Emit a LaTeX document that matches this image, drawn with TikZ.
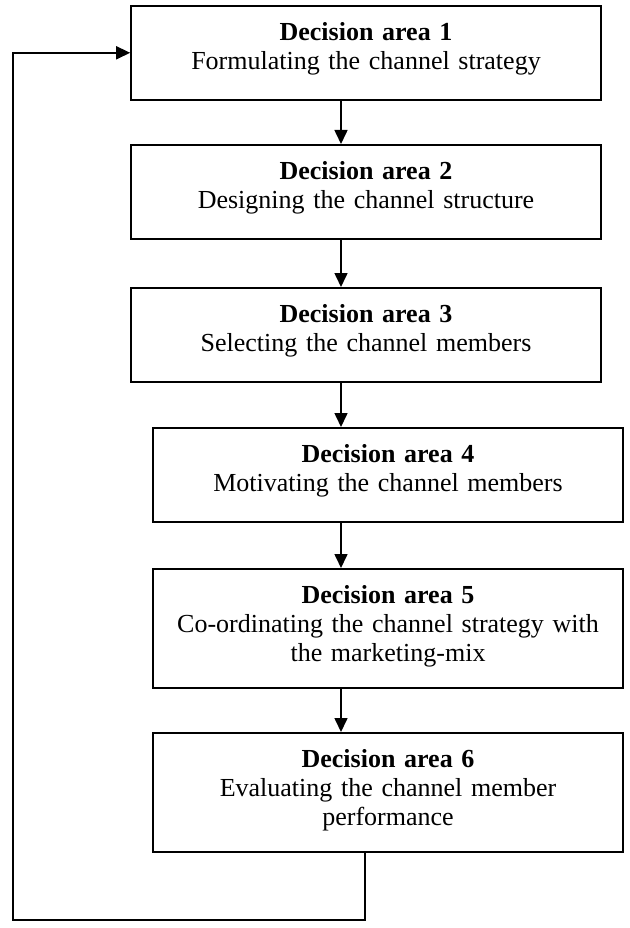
\documentclass[tikz,border=0pt]{standalone}
\usepackage{fontspec}
\setmainfont{Liberation Serif}
\usetikzlibrary{arrows.meta,calc}

\begin{document}
\begin{tikzpicture}[x=1pt,y=1pt]
        \useasboundingbox (0,0) rectangle (629,-928);
        \begin{scope}[every node/.style={draw,line width=1.6pt,anchor=north,inner sep=0pt,
                    text width=470pt,align=center,text height=35pt,text depth=59pt,
                    font=\fontsize{26}{29}\selectfont}]
            \node (a1) at (366,-5) {\textbf{Decision area 1}\\Formulating the channel strategy};
            \node (a2) at (366,-144) {\textbf{Decision area 2}\\Designing the channel structure};
            \node (a3) at (366,-287) {\textbf{Decision area 3}\\Selecting the channel members};
            \node (a4) at (388,-427) {\textbf{Decision area 4}\\Motivating the channel members};
            \node[text depth=84pt] (a5) at (388,-568) {\textbf{Decision area 5}\\Co-ordinating the channel strategy with\\the marketing-mix};
            \node[text depth=84pt] (a6) at (388,-732) {\textbf{Decision area 6}\\Evaluating the channel member\\performance};
        \end{scope}

        \coordinate (spine) at (341,0);
        \coordinate (back) at (365,0);
        \coordinate (corner) at (13,-920);

        \begin{scope}[>={Triangle[length=14pt,width=13pt]},
                    every edge/.style={draw=black,line width=1.6pt}]
            \path [->] (a1.south -| spine) edge (a2.north -| spine);
            \path [->] (a2.south -| spine) edge (a3.north -| spine);
            \path [->] (a3.south -| spine) edge (a4.north -| spine);
            \path [->] (a4.south -| spine) edge (a5.north -| spine);
            \path [->] (a5.south -| spine) edge (a6.north -| spine);
            \draw [->,line width=1.6pt] (a6.south -| back) |- (corner) |- (a1.west);
        \end{scope}
    \end{tikzpicture}
\end{document}
